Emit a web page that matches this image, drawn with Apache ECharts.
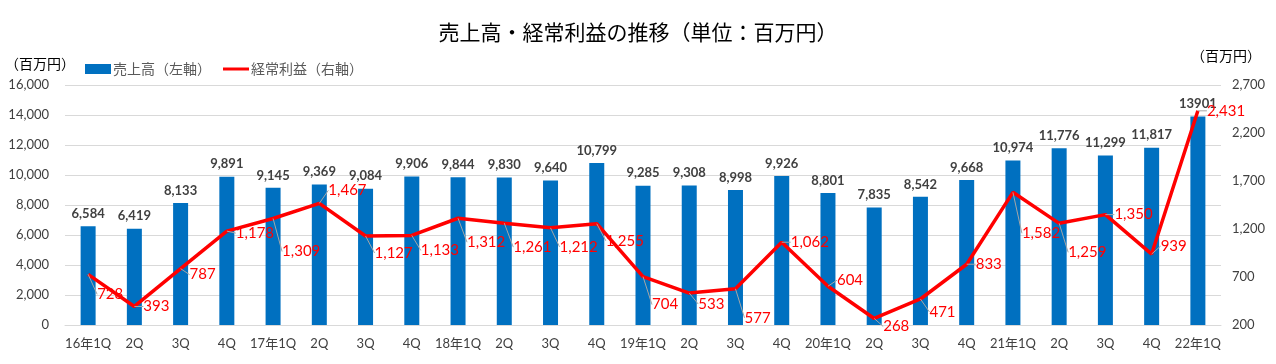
<!DOCTYPE html>
<html><head><meta charset="utf-8">
<script src="https://cdn.jsdelivr.net/npm/echarts@6/dist/echarts.min.js"></script>
<style>html,body{margin:0;padding:0;background:#fff}#c{width:1276px;height:364px}</style>
</head><body><div id="c"></div>
<script>
const categories = ['16年1Q','2Q','3Q','4Q','17年1Q','2Q','3Q','4Q','18年1Q','2Q','3Q','4Q','19年1Q','2Q','3Q','4Q','20年1Q','2Q','3Q','4Q','21年1Q','2Q','3Q','4Q','22年1Q'];
const sales = [6584,6419,8133,9891,9145,9369,9084,9906,9844,9830,9640,10799,9285,9308,8998,9926,8801,7835,8542,9668,10974,11776,11299,11817,13901];
const ordinaryProfit = [728,393,787,1178,1309,1467,1127,1133,1312,1261,1212,1255,704,533,577,1062,604,268,471,833,1582,1259,1350,939,2431];
const leftTicks = {min:0, max:16000, interval:2000};
const rightTicks = {min:200, max:2700, interval:500};
// vertical nudges for line labels (label layout only)
const profitLabelDy = [20,0,6,2,33,-13,17,15,24,24,19,17,28,11,29,0,-6,8,13,0,41,29,0,-8,0];

const FONT = "Lato, 'Noto Sans CJK JP', sans-serif";
const chart = echarts.init(document.getElementById('c'));
chart.setOption({
  animation:false,
  backgroundColor:'#fff',
  title:{text:'売上高・経常利益の推移（単位：百万円）', left:'center', top:17,
    textStyle:{fontFamily:"'Noto Sans CJK JP'", fontSize:21, fontWeight:'normal', color:'#000'}},
  legend:{left:80, top:57, itemGap:12, itemWidth:26, itemHeight:10,
    textStyle:{fontFamily:"'Noto Sans CJK JP'", fontSize:14, color:'#595959', padding:[0,0,0,-3]},
    data:[{name:'売上高（左軸）', icon:'rect'},{name:'経常利益（右軸）', icon:'path://M0,0 L26,0 L26,3 L0,3 Z'}]},
  graphic:[
    {type:'text', left:5, top:57, style:{text:'（百万円）', font:"14px 'Noto Sans CJK JP'", fill:'#000'}},
    {type:'text', left:1191, top:49, style:{text:'（百万円）', font:"14px 'Noto Sans CJK JP'", fill:'#000'}}
  ],
  grid:{left:65, right:55, top:85, bottom:39},
  xAxis:{type:'category', data:categories,
    axisLine:{lineStyle:{color:'#d9d9d9'}}, axisTick:{show:false},
    axisLabel:{interval:0, color:'#404040', fontSize:13, fontFamily:FONT, margin:12}},
  yAxis:[
    {type:'value', min:leftTicks.min, max:leftTicks.max, interval:leftTicks.interval,
     axisLabel:{color:'#404040', fontSize:13, fontFamily:FONT, margin:16,
       formatter:v=>v.toLocaleString('en-US')},
     splitLine:{lineStyle:{color:'#d9d9d9'}}, axisLine:{show:false}, axisTick:{show:false}},
    {type:'value', min:rightTicks.min, max:rightTicks.max, interval:rightTicks.interval,
     axisLabel:{color:'#404040', fontSize:13, fontFamily:FONT, margin:11,
       formatter:v=>v.toLocaleString('en-US')},
     splitLine:{show:false}, axisLine:{show:false}, axisTick:{show:false}}
  ],
  series:[
    {name:'売上高（左軸）', type:'bar', data:sales, yAxisIndex:0, barWidth:15,
     itemStyle:{color:'#0070c0'},
     label:{show:true, position:'top', distance:6, color:'#404040', fontWeight:'bold', fontSize:13, fontFamily:FONT,
       formatter:p=> p.dataIndex===sales.length-1 ? String(p.value) : p.value.toLocaleString('en-US')}},
    {name:'経常利益（右軸）', type:'line', data:ordinaryProfit, yAxisIndex:1, z:3,
     showSymbol:true, symbol:'circle', symbolSize:0.01, lineStyle:{color:'#ff0000', width:3.5}, itemStyle:{color:'#ff0000'},
     label:{show:true, position:'right', distance:9, color:'#ff0000', fontSize:15, fontFamily:FONT,
       formatter:p=>p.value.toLocaleString('en-US')},
     labelLayout:p=>({dy:profitLabelDy[p.dataIndex]}),
     labelLine:{show:true, lineStyle:{color:'#a6a6a6', width:1}}}
  ]
});
</script></body></html>
